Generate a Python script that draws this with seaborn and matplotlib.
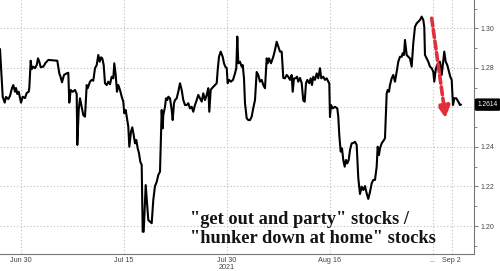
import matplotlib
matplotlib.use("Agg")
import matplotlib.pyplot as plt
import seaborn as sns
import pandas as pd

# ---- data (x = trading-day position, Jun 30 = 0) ----
session_pos = [
    -2.244, -1.955, -1.741, -1.603, -1.357, -1.175, -0.962, -0.823, -0.641, -0.534,
    -0.395, -0.246, -0.107, 0.000, 0.182, 0.427, 0.609, 0.823, 0.887, 1.036,
    1.143, 1.314, 1.496, 1.677, 1.816, 1.955, 2.105, 2.382, 2.639, 2.917,
    3.878, 4.092, 4.241, 4.380, 4.594, 4.882, 5.053, 5.160, 5.310, 5.524,
    5.769, 5.951, 6.015, 6.165, 6.303, 6.485, 6.656, 6.838, 7.019, 7.126,
    7.372, 7.553, 7.724, 7.906, 8.088, 8.259, 8.408, 8.547, 8.686, 8.835,
    8.974, 9.156, 9.327, 9.509, 9.690, 9.861, 9.968, 10.118, 10.256, 10.395,
    10.577, 10.759, 10.929, 11.036, 11.186, 11.325, 11.464, 11.571, 11.752, 11.891,
    12.041, 12.179, 12.318, 12.468, 12.607, 12.746, 12.895, 13.002, 13.109, 13.323,
    13.494, 13.601, 13.782, 13.964, 14.135, 14.316, 14.498, 14.669, 14.850, 14.957,
    15.032, 15.139, 15.203, 15.385, 15.491, 15.630, 15.737, 15.919, 16.100, 16.207,
    16.346, 16.453, 16.635, 16.806, 16.987, 17.169, 17.340, 17.521, 17.703, 17.874,
    18.056, 18.237, 18.408, 18.590, 18.771, 18.942, 19.124, 19.306, 19.477, 19.658,
    19.840, 20.011, 20.118, 20.267, 20.406, 20.726, 20.908, 21.015, 21.154, 21.335,
    21.549, 21.688, 21.827, 21.977, 22.083, 22.222, 22.436, 22.650, 22.863, 23.002,
    23.109, 23.216, 23.397, 23.579, 23.686, 23.825, 23.932, 24.113, 24.284, 24.466,
    24.647, 24.818, 25.000, 25.182, 25.353, 25.534, 25.716, 25.887, 26.068, 26.250,
    26.357, 26.496, 26.709, 26.955, 27.137, 27.318, 27.489, 27.671, 27.853, 28.024,
    28.205, 28.387, 28.558, 28.739, 28.921, 29.028, 29.167, 29.348, 29.487, 29.626,
    29.808, 29.989, 30.160, 30.310, 30.449, 30.588, 30.801, 30.951, 31.090, 31.229,
    31.410, 31.592, 31.763, 31.944, 32.083, 32.297, 32.479, 32.660, 32.831, 32.938,
    33.013, 33.120, 33.301, 33.547, 33.793, 33.900, 34.006, 34.156, 34.295, 34.434,
    34.583, 34.722, 34.861, 35.011, 35.150, 35.331, 35.502, 35.684, 35.865, 36.036,
    36.218, 36.400, 36.571, 36.752, 36.934, 37.105, 37.286, 37.468, 37.639, 37.821,
    38.002, 38.109, 38.248, 38.355, 38.536, 38.782, 38.889, 39.071, 39.177, 39.316,
    39.423, 39.605, 39.776, 39.957, 40.139, 40.310, 40.491, 40.673, 40.780, 40.919,
    41.026, 41.207, 41.378, 41.560, 41.741, 41.912, 42.094, 42.276, 42.447, 42.628,
    42.810, 42.981, 43.088, 43.162, 43.344, 43.515, 43.697, 43.878, 44.049, 44.156,
    44.306, 44.444, 44.583, 44.765, 44.947, 45.118, 45.224, 45.374, 45.545, 45.727,
    45.865, 46.015, 46.154, 46.293, 46.507, 46.720, 46.902, 47.009,
]
ratio = [
    1.2895, 1.2654, 1.2624, 1.2653, 1.2642, 1.2658, 1.2698, 1.2713, 1.2679, 1.2698,
    1.2668, 1.2679, 1.2647, 1.2624, 1.2654, 1.2647, 1.2673, 1.2679, 1.2698, 1.2836,
    1.2793, 1.2806, 1.2798, 1.2814, 1.2848, 1.2831, 1.2803, 1.2806, 1.2826, 1.2840,
    1.2836, 1.2772, 1.2752, 1.2727, 1.2764, 1.2772, 1.2775, 1.2624, 1.2688, 1.2679,
    1.2688, 1.2668, 1.2410, 1.2587, 1.2646, 1.2603, 1.2561, 1.2553, 1.2713, 1.2697,
    1.2730, 1.2739, 1.2735, 1.2798, 1.2814, 1.2865, 1.2831, 1.2853, 1.2848, 1.2814,
    1.2722, 1.2713, 1.2730, 1.2717, 1.2755, 1.2747, 1.2823, 1.2764, 1.2679, 1.2713,
    1.2688, 1.2654, 1.2629, 1.2570, 1.2587, 1.2545, 1.2502, 1.2401, 1.2477, 1.2499,
    1.2460, 1.2418, 1.2435, 1.2393, 1.2368, 1.2325, 1.2309, 1.1971, 1.1971, 1.2207,
    1.2098, 1.2030, 1.2022, 1.2014, 1.2132, 1.2202, 1.2223, 1.2258, 1.2275, 1.2452,
    1.2587, 1.2494, 1.2561, 1.2603, 1.2646, 1.2637, 1.2654, 1.2646, 1.2587, 1.2536,
    1.2621, 1.2637, 1.2646, 1.2679, 1.2722, 1.2688, 1.2637, 1.2612, 1.2612, 1.2621,
    1.2595, 1.2603, 1.2578, 1.2612, 1.2637, 1.2663, 1.2646, 1.2629, 1.2671, 1.2637,
    1.2663, 1.2697, 1.2578, 1.2688, 1.2697, 1.2713, 1.2722, 1.2789, 1.2856, 1.2882,
    1.2856, 1.2823, 1.2806, 1.2799, 1.2722, 1.2739, 1.2730, 1.2739, 1.2772, 1.2798,
    1.2958, 1.2823, 1.2831, 1.2806, 1.2814, 1.2747, 1.2621, 1.2545, 1.2536, 1.2536,
    1.2553, 1.2597, 1.2637, 1.2779, 1.2764, 1.2730, 1.2739, 1.2713, 1.2697, 1.2848,
    1.2823, 1.2848, 1.2823, 1.2856, 1.2890, 1.2932, 1.2907, 1.2882, 1.2882, 1.2749,
    1.2747, 1.2764, 1.2755, 1.2739, 1.2764, 1.2679, 1.2747, 1.2747, 1.2755, 1.2730,
    1.2749, 1.2723, 1.2635, 1.2629, 1.2722, 1.2739, 1.2722, 1.2747, 1.2713, 1.2755,
    1.2739, 1.2772, 1.2747, 1.2798, 1.2747, 1.2755, 1.2739, 1.2747, 1.2730, 1.2722,
    1.2551, 1.2612, 1.2595, 1.2603, 1.2595, 1.2553, 1.2460, 1.2376, 1.2393, 1.2334,
    1.2300, 1.2334, 1.2317, 1.2334, 1.2384, 1.2418, 1.2420, 1.2426, 1.2410, 1.2243,
    1.2162, 1.2199, 1.2182, 1.2202, 1.2165, 1.2137, 1.2172, 1.2216, 1.2233, 1.2233,
    1.2300, 1.2401, 1.2359, 1.2393, 1.2418, 1.2435, 1.2444, 1.2671, 1.2688, 1.2679,
    1.2713, 1.2747, 1.2764, 1.2730, 1.2780, 1.2831, 1.2856, 1.2856, 1.2874, 1.2865,
    1.2941, 1.2865, 1.2856, 1.2848, 1.2806, 1.2924, 1.3008, 1.3025, 1.3033, 1.3042,
    1.3059, 1.3042, 1.3008, 1.2865, 1.2848, 1.2831, 1.2806, 1.2798, 1.2780, 1.2730,
    1.2789, 1.2814, 1.2806, 1.2831, 1.2764, 1.2840, 1.2882, 1.2831, 1.2814, 1.2780,
    1.2755, 1.2739, 1.2612, 1.2646, 1.2646, 1.2629, 1.2612, 1.2614,
]

x_tick_pos = [0, 11, 22, 33, 44, 46]
x_tick_labels = ["Jun 30", "Jul 15", "Jul 30\n2021", "Aug 16", "...", "Sep 2"]
x_minor_pos = [6, 17, 28, 38]
y_tick_vals = [1.20, 1.22, 1.24, 1.26, 1.28, 1.30]
y_tick_labels = ["1.20", "1.22", "1.24", "", "1.28", "1.30"]
y_minor_vals = [1.19, 1.21, 1.23, 1.25, 1.27, 1.29, 1.31]
last_value = 1.2614
arrow_start = (43.88, 1.3051)
arrow_end = (45.37, 1.2545)
title_lines = ['"get out and party" stocks /', '"hunker down at home" stocks']

df = pd.DataFrame({"pos": session_pos, "ratio": ratio})

sns.set_style("white")
plt.rcParams["font.family"] = ["Liberation Sans", "DejaVu Sans"]

fig = plt.figure(figsize=(5.0, 2.71), dpi=100)
ax = fig.add_axes([0.0, 1 - 254 / 271, 474 / 500, 254 / 271])

sns.lineplot(data=df, x="pos", y="ratio", ax=ax, color="black", linewidth=1.5,
             estimator=None, sort=False)

ax.set_xlim(-2.244, 48.40)
ax.set_ylim(1.18584, 1.31431)
ax.set_xlabel("")
ax.set_ylabel("")

# axes styling
for s in ["top", "left"]:
    ax.spines[s].set_visible(False)
for s in ["bottom", "right"]:
    ax.spines[s].set_color("#777777")
    ax.spines[s].set_linewidth(0.8)

ax.yaxis.tick_right()
ax.set_yticks(y_tick_vals)
ax.set_yticklabels(y_tick_labels)
ax.set_yticks(y_minor_vals, minor=True)
ax.set_xticks(x_tick_pos)
ax.set_xticklabels(x_tick_labels)
ax.set_xticks(x_minor_pos, minor=True)

ax.tick_params(axis="y", which="major", direction="out", length=3, width=0.7,
               color="#777777", labelsize=5, labelcolor="#444444", pad=1.5,
               left=False, right=True)
ax.tick_params(axis="y", which="minor", direction="out", length=2, width=0.6,
               color="#777777", left=False, right=True)
ax.tick_params(axis="x", which="major", direction="out", length=0, width=0.7,
               color="#777777", labelsize=5.2, labelcolor="#444444", pad=2)
ax.tick_params(axis="x", which="minor", direction="in", length=3, width=0.6,
               color="#777777")
# the current-day marker tick below Sep 2
sep_tick = ax.xaxis.get_major_ticks()[-1]
sep_tick.tick1line.set_markersize(16)
sep_tick.tick1line.set_markeredgewidth(0.8)
for lab in ax.get_xticklabels():
    lab.set_linespacing(1.0)

ax.grid(True, which="major", axis="both", color="#bdbdbd", linewidth=0.8,
        linestyle=(0, (1, 2)))
ax.set_axisbelow(True)

# last value tag
ax.annotate(f"{last_value:.4f}", xy=(1.0, last_value), xycoords=("axes fraction", "data"),
            xytext=(2.5, 0), textcoords="offset points", ha="left", va="center",
            color="white", fontsize=4.8, annotation_clip=False,
            bbox=dict(boxstyle="round,pad=0.3,rounding_size=0.15", fc="black", ec="black"))

# red dashed arrow
ax.annotate("", xy=arrow_end, xytext=arrow_start,
            arrowprops=dict(arrowstyle="-|>,head_width=0.36,head_length=0.7",
                            color="#e0303c", lw=2.6, linestyle=(0, (2.2, 1.0)),
                            shrinkA=0, shrinkB=0))

# caption text
ax.text(190 / 474, 30 / 254, title_lines[0], transform=ax.transAxes,
        ha="left", va="baseline", fontsize=13.2, fontweight="bold",
        family=["Liberation Serif", "DejaVu Serif"], color="#141414")
ax.text(190 / 474, 11 / 254, title_lines[1], transform=ax.transAxes,
        ha="left", va="baseline", fontsize=13.2, fontweight="bold",
        family=["Liberation Serif", "DejaVu Serif"], color="#141414")

fig.savefig("out.png", dpi=100)
